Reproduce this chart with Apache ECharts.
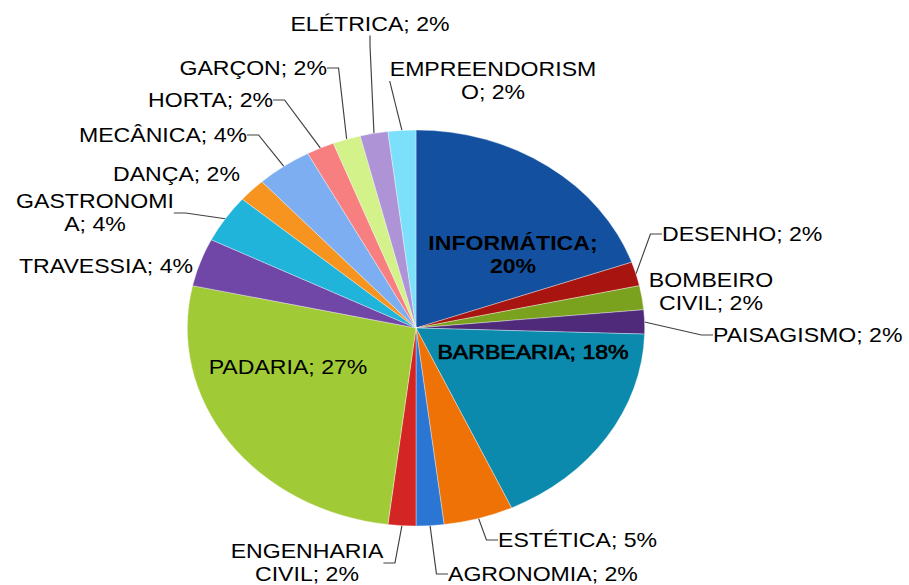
<!DOCTYPE html>
<html><head><meta charset="utf-8">
<script src="https://cdn.jsdelivr.net/npm/echarts@6/dist/echarts.min.js"></script>
<style>
html,body{margin:0;padding:0;background:#fff;overflow:hidden;width:909px;height:585px}
#wrap{width:909px;height:585px;overflow:hidden;position:relative;background:#fff}
#chart{position:absolute;left:0;top:0;width:787px;height:585px;transform-origin:0 0;transform:scaleX(1.155)}
</style></head>
<body><div id="wrap"><div id="chart"></div></div>
<script>
// ---- data ----
const categories = ['INFORMÁTICA','DESENHO','BOMBEIRO CIVIL','PAISAGISMO','BARBEARIA','ESTÉTICA','AGRONOMIA','ENGENHARIA CIVIL','PADARIA','TRAVESSIA','GASTRONOMIA','DANÇA','MECÂNICA','HORTA','GARÇON','ELÉTRICA','EMPREENDORISMO'];
const percents = [20,2,2,2,18,5,2,2,27,4,4,2,4,2,2,2,2];
// ---- styles / layout ----
const colors = ['#1351A0','#A8140F','#7BA21E','#4F2A7A','#0C8AAE','#EE7206','#2A76D2','#D42525','#A1CB36','#7046A6','#20B4DA','#F79420','#7EAEF2','#F77F7F','#D3F28A','#AE93D6','#7DE0FA'];
const S = 1.155;   // horizontal stretch of the picture
const PAD = 400;   // widen the series view so outside labels are never truncated
// label anchor positions in picture pixels: [x, y, align]
const labelPos = [
 [513,255,'center'],[662,234,'left'],[711,292,'center'],[713,335,'left'],
 [533,352,'center'],[498,540,'left'],[448,574,'left'],[307,563,'center'],
 [288,367,'center'],[193,266,'right'],[95,213,'center'],[240,174,'right'],
 [247,135,'right'],[273,100,'right'],[327,68,'right'],[370,24,'center'],[493,81,'center']
];
const showLine = [false,true,false,true,false,true,true,true,false,false,true,false,true,true,true,true,true];
const labelWeight = ['bold','normal','normal','normal','semi','normal','normal','normal','normal','normal','normal','normal','normal','normal','normal','normal','normal'];
const wraps = {
  'INFORMÁTICA': t => t.replace('; ', ';\n'),
  'BOMBEIRO CIVIL': t => t.replace(' ', '\n'),
  'ENGENHARIA CIVIL': t => t.replace(' ', '\n'),
  'GASTRONOMIA': t => t.slice(0,10) + '\n' + t.slice(10),
  'EMPREENDORISMO': t => t.slice(0,13) + '\n' + t.slice(13)
};

const chart = echarts.init(document.getElementById('chart'), null, {renderer:'svg'});
chart.setOption({
  backgroundColor:'#fff',
  animation:false,
  series:[{
    type:'pie',
    left:-PAD, right:-PAD, top:0, bottom:0,
    center:[416/S + PAD, 328],
    radius:198,
    startAngle:90,
    clockwise:true,
    avoidLabelOverlap:false,
    itemStyle:{borderWidth:0.6, borderColor:'rgba(255,255,255,0.55)'},
    label:{
      show:true, position:'outside', color:'#000',
      fontFamily:'Liberation Sans, Arial, sans-serif', fontSize:20, lineHeight:23,
      formatter: p => {
        let t = p.name + '; ' + p.value + '%';
        return wraps[p.name] ? wraps[p.name](t) : t;
      }
    },
    labelLine:{show:true, length:12, length2:10, smooth:false, lineStyle:{color:'#404040', width:1}},
    labelLayout: params => {
      const a = labelPos[params.dataIndex];
      return {x:a[0]/S, y:a[1], align:a[2], verticalAlign:'middle'};
    },
    emphasis:{disabled:true},
    data: categories.map((c,i)=>({
      name:c, value:percents[i],
      itemStyle:{color:colors[i]},
      label: labelWeight[i] === 'semi'
        ? {fontWeight:'normal', textBorderColor:'#000', textBorderWidth:0.7}
        : {fontWeight:labelWeight[i]},
      labelLine:{show:showLine[i]}
    }))
  }]
});
</script>
</body></html>
